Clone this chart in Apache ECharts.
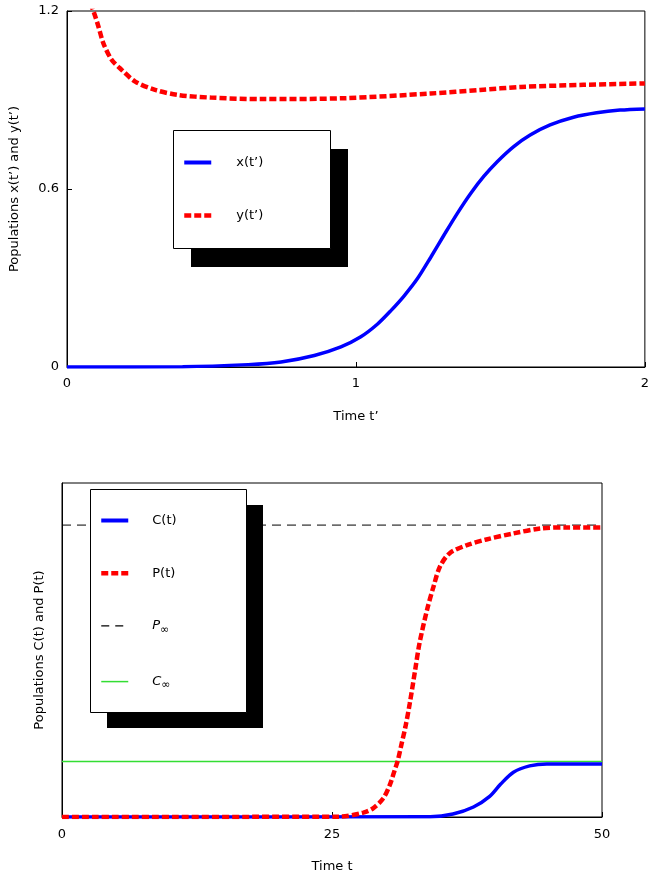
<!DOCTYPE html>
<html><head><meta charset="utf-8">
<script src="https://cdn.jsdelivr.net/npm/echarts@6/dist/echarts.min.js"></script>
<style>html,body{margin:0;padding:0;background:#fff}#c{width:652px;height:880px}</style>
</head><body><div id="c"></div>
<script>
// Top chart data
const tX = [0, 0.4, 0.627, 0.741, 0.856, 0.948, 1.017, 1.075, 1.121, 1.167, 1.213, 1.259, 1.305, 1.351, 1.397, 1.443, 1.489, 1.546, 1.603, 1.672, 1.753, 1.833, 1.914, 2];
const xVals = [0, 0.001, 0.008, 0.017, 0.039, 0.068, 0.102, 0.145, 0.19, 0.24, 0.298, 0.37, 0.445, 0.518, 0.585, 0.643, 0.692, 0.743, 0.782, 0.816, 0.842, 0.857, 0.866, 0.87];
const tY = [0, 0.05, 0.092, 0.109, 0.126, 0.155, 0.19, 0.236, 0.305, 0.385, 0.5, 0.672, 0.959, 1.259, 1.43, 1.571, 1.787, 2];
const yVals = [1.45, 1.3, 1.198, 1.147, 1.091, 1.035, 1.001, 0.962, 0.934, 0.917, 0.908, 0.903, 0.906, 0.922, 0.934, 0.944, 0.951, 0.956];
// Bottom chart data
const tP = [0, 25.7, 27.9, 28.8, 29.75, 30.4, 30.8, 31.1, 31.45, 31.8, 32.2, 32.7, 33.1, 33.8, 34.4, 35.0, 35.9, 37.5, 39.3, 41.8, 44.3, 46.7, 50];
const pVals = [0, 0.001, 0.013, 0.026, 0.056, 0.10, 0.14, 0.17, 0.22, 0.27, 0.34, 0.44, 0.52, 0.62, 0.69, 0.75, 0.79, 0.814, 0.831, 0.849, 0.864, 0.867, 0.867];
const tC = [0, 34.1, 36.2, 38.1, 39.6, 40.6, 41.8, 43.3, 44.9, 50];
const cVals = [0, 0.001, 0.009, 0.03, 0.062, 0.098, 0.134, 0.153, 0.159, 0.159];
const tRange = [0, 50];
const pInf = 0.874;
const cInf = 0.166;
const topXTicks = [0, 1, 2];
const topYTicks = [0, 0.6, 1.2];
const botXTicks = [0, 25, 50];

const zip = (a, b) => a.map((v, i) => [v, b[i]]);
const FONT = 'DejaVu Sans';
const txt = {color: '#000', fontFamily: FONT, fontSize: 13};

const chart = echarts.init(document.getElementById('c'), null, {renderer: 'canvas'});
const axisCommon = {
  axisLine: {show: true, lineStyle: {color: '#000', width: 1}},
  axisTick: {show: true, inside: true, length: 5, lineStyle: {color: '#000'}},
  splitLine: {show: false},
  axisLabel: Object.assign({}, txt)
};
const legendText = Object.assign({}, txt);
const thickSolid = {width: 4};
const thickDash = {width: 4.5, type: [7, 3]};
chart.setOption({
  animation: false,
  backgroundColor: '#fff',
  grid: [
    {left: 65, width: 580, top: 11, height: 356, show: true, borderColor: '#000', borderWidth: 1},
    {left: 62, width: 540, top: 483, height: 334, show: true, borderColor: '#000', borderWidth: 1}
  ],
  xAxis: [
    Object.assign({}, axisCommon, {gridIndex: 0, type: 'value', min: topXTicks[0], max: topXTicks[2], interval: topXTicks[1] - topXTicks[0],
      name: 'Time t’', nameLocation: 'middle', nameGap: 43, nameTextStyle: txt,
      axisLabel: Object.assign({}, txt, {margin: 10})}),
    Object.assign({}, axisCommon, {gridIndex: 1, type: 'value', min: botXTicks[0], max: botXTicks[2], interval: botXTicks[1] - botXTicks[0],
      name: 'Time t', nameLocation: 'middle', nameGap: 43, nameTextStyle: txt,
      axisLabel: Object.assign({}, txt, {margin: 11})})
  ],
  yAxis: [
    Object.assign({}, axisCommon, {gridIndex: 0, type: 'value', min: topYTicks[0], max: topYTicks[2], interval: topYTicks[1] - topYTicks[0],
      name: 'Populations x(t’) and y(t’)', nameLocation: 'middle', nameGap: 46, nameTextStyle: txt,
      axisLabel: Object.assign({}, txt, {margin: 8})}),
    Object.assign({}, axisCommon, {gridIndex: 1, type: 'value', min: 0, max: 1,
      name: 'Populations C(t) and P(t)', nameLocation: 'middle', nameGap: 16, nameTextStyle: txt,
      axisLabel: {show: false}, axisTick: {show: false}})
  ],
  graphic: [
    {type: 'rect', z: 3, shape: {x: 191, y: 149, width: 157, height: 118}, style: {fill: '#000'}},
    {type: 'rect', z: 3, shape: {x: 173.5, y: 130.5, width: 157, height: 118}, style: {fill: '#fff', stroke: '#000', lineWidth: 1}},
    {type: 'rect', z: 3, shape: {x: 107, y: 505, width: 156, height: 223}, style: {fill: '#000'}},
    {type: 'rect', z: 3, shape: {x: 90.5, y: 489.5, width: 156, height: 223}, style: {fill: '#fff', stroke: '#000', lineWidth: 1}}
  ],
  legend: [
    {data: [{name: 'x(t’)', lineStyle: thickSolid}, {name: 'y(t’)', lineStyle: thickDash}],
      orient: 'vertical', left: 182, top: 156, padding: 0, itemGap: 40,
      itemWidth: 27, itemHeight: 14, z: 10, selectedMode: false, itemStyle: {opacity: 0},
      textStyle: Object.assign({}, legendText, {padding: [0, 0, 0, 20]})},
    {data: [{name: 'C(t)', lineStyle: thickSolid}, {name: 'P(t)', lineStyle: thickDash},
            {name: 'Pinf', lineStyle: {width: 1.2, type: [8, 6]}}, {name: 'Cinf', lineStyle: {width: 1.5}}],
      orient: 'vertical', left: 99, top: 514, padding: 0, itemGap: 39.7,
      itemWidth: 27, itemHeight: 14, z: 10, selectedMode: false, itemStyle: {opacity: 0},
      formatter: function (n) {
        if (n === 'Pinf') return '{i|P}{s|∞}';
        if (n === 'Cinf') return '{i|C}{s|∞}';
        return n;
      },
      textStyle: Object.assign({}, legendText, {padding: [0, 0, 0, 19],
        rich: {i: {fontFamily: FONT, fontSize: 13, fontStyle: 'italic', color: '#000'},
               s: {fontFamily: FONT, fontSize: 11, color: '#000', padding: [8, 0, 0, 0]}}})}
  ],
  series: [
    {name: 'x(t’)', type: 'line', xAxisIndex: 0, yAxisIndex: 0, data: zip(tX, xVals), smooth: 0.3, symbol: 'none',
      lineStyle: {color: '#0000ff', width: 3.5}, itemStyle: {color: '#0000ff'}, z: 2},
    {name: 'y(t’)', type: 'line', xAxisIndex: 0, yAxisIndex: 0, data: zip(tY, yVals), smooth: 0.3, symbol: 'none',
      lineStyle: {color: '#ff0000', width: 4.5, type: [7, 3]}, itemStyle: {color: '#ff0000'}, z: 2},
    {name: 'C(t)', type: 'line', xAxisIndex: 1, yAxisIndex: 1, data: zip(tC, cVals), smooth: 0.3, symbol: 'none',
      lineStyle: {color: '#0000ff', width: 3.5}, itemStyle: {color: '#0000ff'}, z: 2},
    {name: 'P(t)', type: 'line', xAxisIndex: 1, yAxisIndex: 1, data: zip(tP, pVals), smooth: 0.3, symbol: 'none',
      lineStyle: {color: '#ff0000', width: 4.5, type: [7, 3]}, itemStyle: {color: '#ff0000'}, z: 2},
    {name: 'Pinf', type: 'line', xAxisIndex: 1, yAxisIndex: 1, data: tRange.map(t => [t, pInf]), symbol: 'none',
      lineStyle: {color: '#000', width: 1, type: [9, 6]}, itemStyle: {color: '#000'}, z: 1},
    {name: 'Cinf', type: 'line', xAxisIndex: 1, yAxisIndex: 1, data: tRange.map(t => [t, cInf]), symbol: 'none',
      lineStyle: {color: '#33dd33', width: 1.5}, itemStyle: {color: '#33dd33'}, z: 1}
  ]
});
</script></body></html>
